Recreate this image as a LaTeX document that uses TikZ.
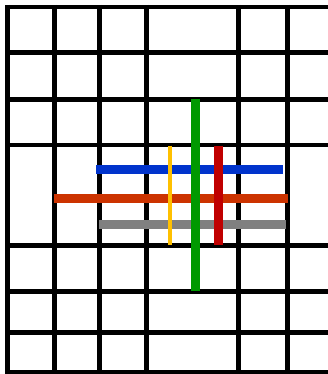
\documentclass[tikz,border=0pt]{standalone}
\begin{document}
\begin{tikzpicture}[x=1pt,y=-1pt,
  gridline/.style={line width=4.5pt,black},
  barthick/.style={line width=8.8pt},
  barthin/.style={line width=4pt}]
\definecolor{cblue}{RGB}{0,51,204}
\definecolor{cgreen}{RGB}{0,153,0}
\definecolor{cyellow}{RGB}{255,192,0}
\definecolor{cred}{RGB}{192,0,0}
\definecolor{corange}{RGB}{204,51,0}
\definecolor{cgray}{RGB}{128,128,128}
\useasboundingbox[fill=white] (0,0) rectangle (328,374);
% vertical grid lines
\foreach \x in {7.3,54.5,99.5,146.7,238.3,287.3}
  \draw[gridline] (\x,5) -- (\x,374);
% horizontal grid lines
\foreach \y in {7,52.3,99.3,145,245.3,291.3,332.3,372.5}
  \draw[gridline] (7.3,\y) -- (328,\y);
% horizontal bars
\draw[barthick,cblue] (96,169.3) -- (283,169.3);
\draw[barthick,corange] (54,198.3) -- (288,198.3);
\draw[barthick,cgray] (99.3,224.3) -- (286,224.3);
% vertical bars
\draw[barthick,cgreen] (195.5,99) -- (195.5,290.7);
\draw[line width=9pt,cred] (218.5,145.7) -- (218.5,244.7);
\draw[barthin,cyellow] (170.3,145.7) -- (170.3,244.7);
\end{tikzpicture}
\end{document}
